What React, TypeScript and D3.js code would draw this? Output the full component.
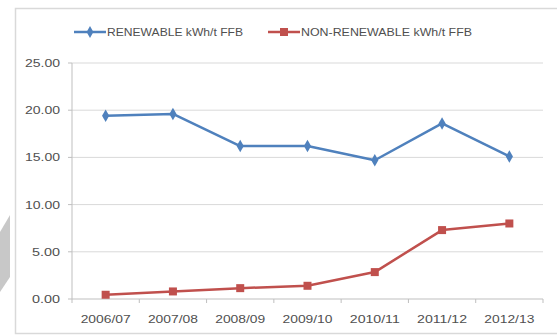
import React from "react";
import * as d3 from "d3";

const categories = ["2006/07", "2007/08", "2008/09", "2009/10", "2010/11", "2011/12", "2012/13"];
const renewable = [19.4, 19.6, 16.2, 16.2, 14.7, 18.6, 15.1];
const nonRenewable = [0.45, 0.8, 1.15, 1.4, 2.85, 7.3, 8.0];
const yTicks = [0, 5, 10, 15, 20, 25];
const seriesNames = ["RENEWABLE kWh/t FFB", "NON-RENEWABLE kWh/t FFB"];

const W = 557, H = 336;
const left = 72, right = 543, top = 63, bottom = 299;
const font = "'Liberation Sans', Arial, sans-serif";
const textColor = "#505050";
const blue = "#4F81BD";
const red = "#C0504D";

export default function App() {
  const x = d3.scaleBand().domain(categories).range([left, right]);
  const y = d3.scaleLinear().domain([0, 25]).range([bottom, top]);
  const line = d3.line<number>()
    .x((_, i) => (x(categories[i]) as number) + x.bandwidth() / 2)
    .y((d) => y(d));
  const cx = (i: number) => (x(categories[i]) as number) + x.bandwidth() / 2;
  const boundaries = categories.map((c) => x(c) as number).concat([right]);

  return (
    <svg width={W} height={H} style={{ position: "absolute", left: 0, top: 0, background: "#fff" }}>
      <rect x={0} y={0} width={W} height={H} fill="#fff" />
      <polygon points="10,215 10,277 0,292 0,232" fill="#c8c8c8" />
      <rect x={15.5} y={8.5} width={W + 10} height={325} fill="none" stroke="#d9d9d9" strokeWidth={1.5} />
      {yTicks.map((t) => (
        <g key={t}>
          {t > 0 && <line x1={left} x2={right} y1={y(t)} y2={y(t)} stroke="#d9d9d9" strokeWidth={1} />}
          <line x1={left - 4} x2={left} y1={y(t)} y2={y(t)} stroke="#bfbfbf" />
          <text x={60} y={y(t)} dy="0.35em" textAnchor="end" fontFamily={font} fontSize={11.5} fill={textColor}
            textLength={t >= 10 ? 35 : 28} lengthAdjust="spacingAndGlyphs">
            {t.toFixed(2)}
          </text>
        </g>
      ))}
      <line x1={left} x2={left} y1={top} y2={bottom} stroke="#bfbfbf" />
      <line x1={left} x2={right} y1={bottom} y2={bottom} stroke="#bfbfbf" />
      {boundaries.map((b, i) => (
        <line key={i} x1={b} x2={b} y1={bottom} y2={bottom + 4} stroke="#bfbfbf" />
      ))}
      {categories.map((c, i) => (
        <text key={c} x={cx(i)} y={319} dy="0.35em" textAnchor="middle" fontFamily={font} fontSize={11.5} fill={textColor}
          textLength={50} lengthAdjust="spacingAndGlyphs">
          {c}
        </text>
      ))}
      <path d={line(renewable) || ""} fill="none" stroke={blue} strokeWidth={2.5} strokeLinejoin="round" />
      <path d={line(nonRenewable) || ""} fill="none" stroke={red} strokeWidth={2.5} strokeLinejoin="round" />
      {renewable.map((v, i) => (
        <path key={i} d={d3.symbol(d3.symbolDiamond, 45)() || ""} transform={`translate(${cx(i)},${y(v)})`} fill={blue} />
      ))}
      {nonRenewable.map((v, i) => (
        <rect key={i} x={cx(i) - 4} y={y(v) - 4} width={8} height={8} fill={red} />
      ))}
      {/* legend */}
      <g>
        <line x1={74} x2={106} y1={32} y2={32} stroke={blue} strokeWidth={2.5} />
        <path d={d3.symbol(d3.symbolDiamond, 40)() || ""} transform="translate(90,32)" fill={blue} />
        <text x={107} y={32} dy="0.35em" fontFamily={font} fontSize={11.5} fill={textColor}
          textLength={136} lengthAdjust="spacingAndGlyphs">
          {seriesNames[0]}
        </text>
        <line x1={268} x2={300} y1={32} y2={32} stroke={red} strokeWidth={2.5} />
        <rect x={280} y={28} width={8} height={8} fill={red} />
        <text x={301} y={32} dy="0.35em" fontFamily={font} fontSize={11.5} fill={textColor}
          textLength={171} lengthAdjust="spacingAndGlyphs">
          {seriesNames[1]}
        </text>
      </g>
    </svg>
  );
}
